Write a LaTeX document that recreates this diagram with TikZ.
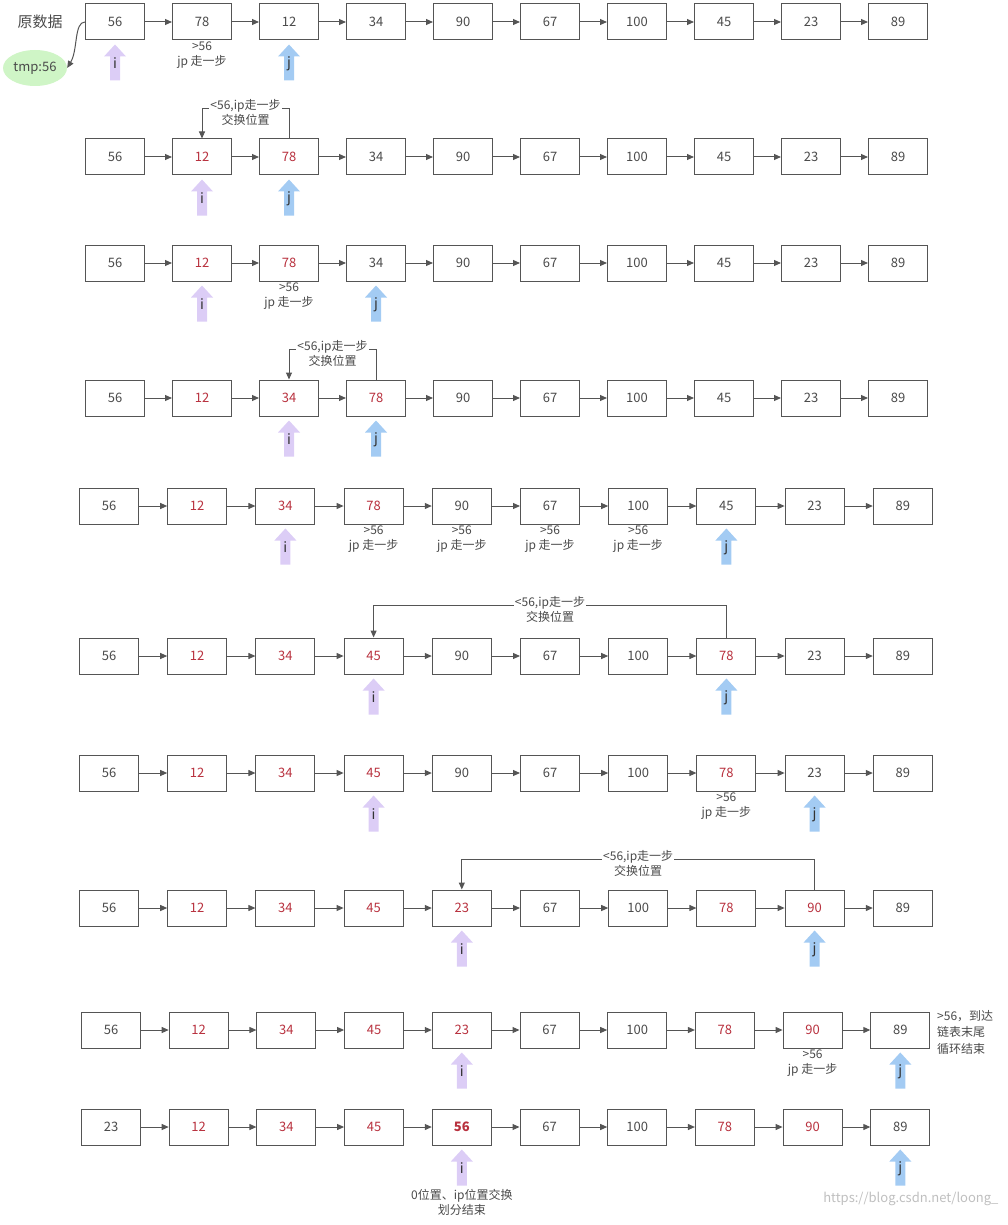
\documentclass[tikz,border=0pt]{standalone}
\usepackage{fontspec}
\setmainfont{Noto Sans CJK SC}
\usetikzlibrary{arrows.meta,shapes.geometric,positioning}

\definecolor{boxline}{HTML}{555555}
\definecolor{numtext}{HTML}{4A4A4A}
\definecolor{numred}{HTML}{B8313E}
\definecolor{ptri}{HTML}{DCCDF6}
\definecolor{ptrj}{HTML}{A3CBF3}
\definecolor{tmpgreen}{HTML}{CFF5C6}

% one row of the list: name, y, first x, spacing, values
\newcommand\listrow[5]{%
  \foreach \v/\c [count=\k] in {#5}
    \node[cell, text=\c] (#1-\k) at ({#3+(\k-1)*#4}, #2) {\v};
  \foreach \k [evaluate=\k as \n using int(\k+1)] in {1,...,9}
    \draw[nextarrow] (#1-\k) -- (#1-\n);
}

% pointer arrow under a box: name, box, colour, letter
\newcommand\ptr[4]{%
  \fill[#3, shift={(#2.south)}] (-5,40) -- (-5,16) -- (-11,16) -- (0,4) -- (11,16) -- (5,16) -- (5,40) -- cycle;
  \node[ptrletter] (#1) at ([yshift=-23pt]#2.south) {#4};
}

\begin{document}
\begin{tikzpicture}[x=1pt,y=-1pt,
  cell/.style={draw=boxline, line width=1pt, minimum width=59pt, minimum height=36pt, inner sep=0pt, font=\fontsize{13}{15}\selectfont},
  nextarrow/.style={draw=boxline, line width=1pt, -{Triangle[length=7pt,width=6pt]}},
  swapline/.style={draw=boxline, line width=1pt, -{Triangle[length=7pt,width=6pt]}, rounded corners=0pt},
  swaplabel/.style={pos=0.25, yshift=-3.5pt, fill=white, inner sep=1pt, align=center, text=numtext, font=\fontsize{12}{15}\selectfont},
  steplabel/.style={inner sep=1pt, align=center, text=numtext, font=\fontsize{12}{15}\selectfont},
  ptrletter/.style={inner sep=0pt, text=black!80, font=\fontsize{14}{16}\selectfont}]
\useasboundingbox (0,0) rectangle (1007,1225);

% start
\listrow{r1}{22}{115}{87}{56/numtext,78/numtext,12/numtext,34/numtext,90/numtext,67/numtext,100/numtext,45/numtext,23/numtext,89/numtext}
\node[text=numtext, font=\fontsize{15}{17}\selectfont] (orig) at (40,22) {原数据};
\node[ellipse, fill=tmpgreen, minimum width=64pt, minimum height=36pt, inner sep=1pt, text=numtext, font=\fontsize{13}{15}\selectfont] (tmp) at (35,68) {tmp:56};
\draw[nextarrow] (r1-1.west) .. controls (74,22) and (78,50) .. (tmp.east);
\node[steplabel, below=0pt of r1-2] (l1) {>56\\jp 走一步};
\ptr{i1}{r1-1}{ptri}{i}
\ptr{j1}{r1-3}{ptrj}{j}

% swap 12 and 78
\listrow{r2}{157}{115}{87}{56/numtext,12/numred,78/numred,34/numtext,90/numtext,67/numtext,100/numtext,45/numtext,23/numtext,89/numtext}
\draw[swapline] (r2-3.north) -- ++(0,-30) -| node[swaplabel] (s2) {<56,ip走一步\\交换位置} (r2-2.north);
\ptr{i2}{r2-2}{ptri}{i}
\ptr{j2}{r2-3}{ptrj}{j}

\listrow{r3}{263}{115}{87}{56/numtext,12/numred,78/numred,34/numtext,90/numtext,67/numtext,100/numtext,45/numtext,23/numtext,89/numtext}
\node[steplabel, below=0pt of r3-3] (l3) {>56\\jp 走一步};
\ptr{i3}{r3-2}{ptri}{i}
\ptr{j3}{r3-4}{ptrj}{j}

% swap 34 and 78
\listrow{r4}{398}{115}{87}{56/numtext,12/numred,34/numred,78/numred,90/numtext,67/numtext,100/numtext,45/numtext,23/numtext,89/numtext}
\draw[swapline] (r4-4.north) -- ++(0,-30) -| node[swaplabel] (s4) {<56,ip走一步\\交换位置} (r4-3.north);
\ptr{i4}{r4-3}{ptri}{i}
\ptr{j4}{r4-4}{ptrj}{j}

\listrow{r5}{506}{109}{88.2}{56/numtext,12/numred,34/numred,78/numred,90/numtext,67/numtext,100/numtext,45/numtext,23/numtext,89/numtext}
\node[steplabel, below=0pt of r5-4] (l5a) {>56\\jp 走一步};
\node[steplabel, below=0pt of r5-5] (l5b) {>56\\jp 走一步};
\node[steplabel, below=0pt of r5-6] (l5c) {>56\\jp 走一步};
\node[steplabel, below=0pt of r5-7] (l5d) {>56\\jp 走一步};
\ptr{i5}{r5-3}{ptri}{i}
\ptr{j5}{r5-8}{ptrj}{j}

% swap 78 and 45
\listrow{r6}{656}{109}{88.2}{56/numtext,12/numred,34/numred,45/numred,90/numtext,67/numtext,100/numtext,78/numred,23/numtext,89/numtext}
\draw[swapline] (r6-8.north) -- ++(0,-32) -| node[swaplabel] (s6) {<56,ip走一步\\交换位置} (r6-4.north);
\ptr{i6}{r6-4}{ptri}{i}
\ptr{j6}{r6-8}{ptrj}{j}

\listrow{r7}{773}{109}{88.2}{56/numtext,12/numred,34/numred,45/numred,90/numtext,67/numtext,100/numtext,78/numred,23/numtext,89/numtext}
\node[steplabel, below=0pt of r7-8] (l7) {>56\\jp 走一步};
\ptr{i7}{r7-4}{ptri}{i}
\ptr{j7}{r7-9}{ptrj}{j}

% swap 90 and 23
\listrow{r8}{908}{109}{88.2}{56/numtext,12/numred,34/numred,45/numred,23/numred,67/numtext,100/numtext,78/numred,90/numred,89/numtext}
\draw[swapline] (r8-9.north) -- ++(0,-30) -| node[swaplabel] (s8) {<56,ip走一步\\交换位置} (r8-5.north);
\ptr{i8}{r8-5}{ptri}{i}
\ptr{j8}{r8-9}{ptrj}{j}

\listrow{r9}{1030}{111}{87.7}{56/numtext,12/numred,34/numred,45/numred,23/numred,67/numtext,100/numtext,78/numred,90/numred,89/numtext}
\node[steplabel, below=0pt of r9-9] (l9) {>56\\jp 走一步};
\node[steplabel, align=left, anchor=west, font=\fontsize{12}{16.5}\selectfont] (endnote) at (936,1032) {>56，到达\\链表末尾\\循环结束};
\ptr{i9}{r9-5}{ptri}{i}
\ptr{j9}{r9-10}{ptrj}{j}

% final swap with the head
\listrow{r10}{1127}{111}{87.7}{23/numtext,12/numred,34/numred,45/numred,\textbf{56}/numred,67/numtext,100/numtext,78/numred,90/numred,89/numtext}
\ptr{i10}{r10-5}{ptri}{i}
\ptr{j10}{r10-10}{ptrj}{j}
\node[steplabel, below=14pt of i10] (done) {0位置、ip位置交换\\划分结束};

\node[anchor=east, text=black!25, font=\fontsize{13}{15}\selectfont] (mark) at (1002,1199) {https://blog.csdn.net/loong\_};
\end{tikzpicture}
\end{document}
